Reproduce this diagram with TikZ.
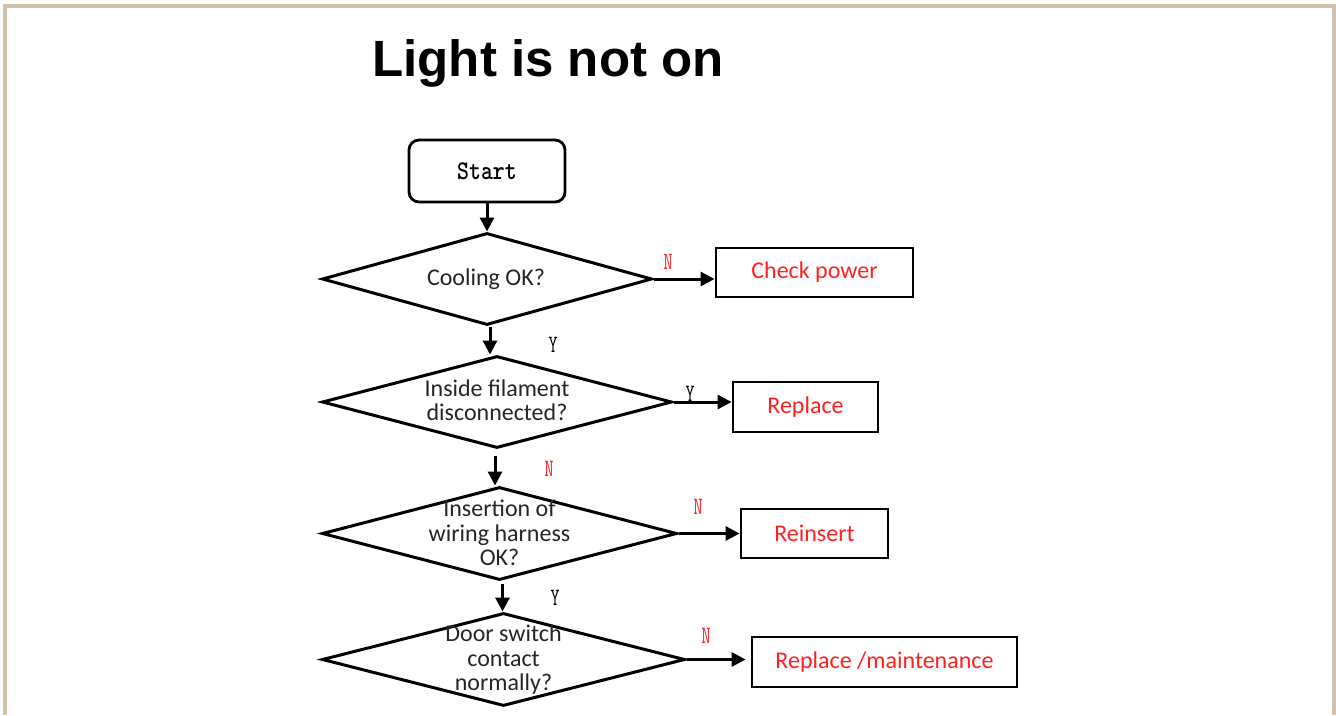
\documentclass[tikz,border=0pt]{standalone}
\usepackage{fontspec}
\setmainfont{Carlito}
\newfontfamily\titlefont{Liberation Sans}
\usetikzlibrary{shapes.geometric,arrows.meta}
\definecolor{frame}{RGB}{208,193,170}
\definecolor{txtred}{RGB}{255,32,32}
\newcommand{\narrow}[2]{\scalebox{#1}[1]{#2}}
\tikzset{
  dia/.style={draw, line width=3pt, shape=diamond, inner sep=0pt},
  dtext/.style={align=center, font=\fontsize{24}{24.5}\selectfont, text=black!85},
  actbox/.style={draw, line width=2.8pt, inner sep=0pt, text=txtred, font=\fontsize{24}{26}\selectfont},
  startbox/.style={draw, line width=2.8pt, rounded corners=10pt, inner sep=0pt, font=\ttfamily\bfseries\fontsize{27}{28}\selectfont},
  arr/.style={line width=3pt, -{Triangle[length=14pt,width=14pt]}},
  yn/.style={font=\ttfamily\fontsize{25}{25}\selectfont},
  yes/.style={yn, text=black},
  no/.style={yn, text=txtred}
}
\begin{document}
\begin{tikzpicture}[x=1pt,y=-1pt]
\useasboundingbox (0,0) rectangle (1336,715);
\fill[white] (0,0) rectangle (1336,715);
\draw[frame, line width=4.5pt] (5,715) -- (5,6) -- (1334,6) -- (1334,715);

\node[font=\titlefont\bfseries\fontsize{51}{56}\selectfont] (title) at (548,63) {Light is not on};

\node[startbox, minimum width=156pt, minimum height=62pt] (start) at (487,171) {\narrow{0.84}{Start}};

\node[dia, minimum width=330pt, minimum height=92pt] (d1) at (487,279) {};
\node[dtext] (t1) at (486,279) {Cooling OK?};

\node[dia, minimum width=350pt, minimum height=92pt] (d2) at (497,402) {};
\node[dtext] (t2) at (497,400) {Inside filament\\disconnected?};

\node[dia, minimum width=355pt, minimum height=93pt] (d3) at (499.5,533.5) {};
\node[dtext] (t3) at (499.5,533) {Insertion of\\wiring harness\\OK?};

\node[dia, minimum width=363pt, minimum height=93pt] (d4) at (503.5,659.5) {};
\node[dtext] (t4) at (503.5,660) {Door switch\\contact\\normally?};

\node[actbox, minimum width=197pt, minimum height=49pt] (b1) at (814.5,272.5) {Check power};
\node[actbox, minimum width=145pt, minimum height=50pt] (b2) at (805.5,407) {Replace};
\node[actbox, minimum width=147pt, minimum height=49pt] (b3) at (814.5,533.5) {Reinsert};
\node[actbox, minimum width=265pt, minimum height=50pt] (b4) at (884.5,662) {Replace /maintenance};

% vertical arrows
\draw[arr] (start.south) -- (d1.north);
\draw[arr] ([xshift=3pt]d1.south) -- ([xshift=3pt]d1.south |- d2.north);
\coordinate (c2) at ([yshift=-6pt,xshift=-2pt]d2.south);
\draw[arr] (c2) -- (c2 |- d3.north);
\coordinate (c3) at ([yshift=-2pt,xshift=3pt]d3.south);
\draw[arr] (c3) -- (c3 |- d4.north);

% horizontal arrows
\draw[arr] (d1.east) -- (d1.east -| b1.west);
\draw[arr] (d2.east) -- (d2.east -| b2.west);
\draw[arr] (d3.east) -- (d3.east -| b3.west);
\draw[arr] (d4.east) -- ([xshift=-5pt]d4.east -| b4.west);

% labels
\node[no] (n1) at (668,262) {\narrow{0.7}{N}};
\node[yes] (y1) at (553,345) {\narrow{0.7}{Y}};
\node[yes] (y2) at (690,394) {\narrow{0.7}{Y}};
\node[no] (n2) at (549,469) {\narrow{0.7}{N}};
\node[no] (n3) at (698,507) {\narrow{0.7}{N}};
\node[yes] (y3) at (555,598) {\narrow{0.7}{Y}};
\node[no] (n4) at (706,636) {\narrow{0.7}{N}};
\end{tikzpicture}
\end{document}
